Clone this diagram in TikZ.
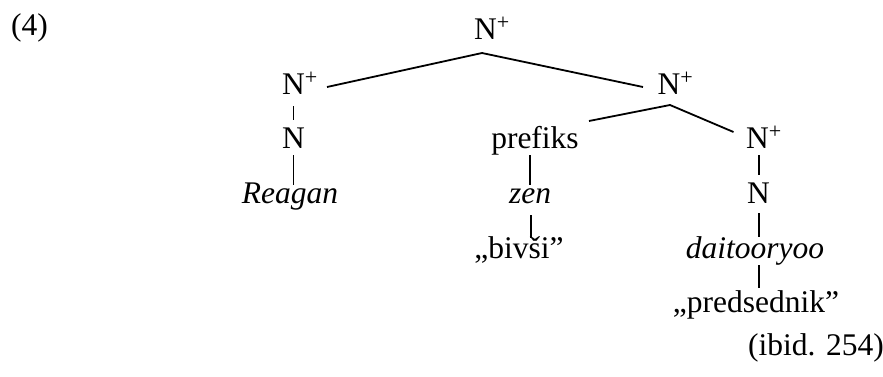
\documentclass[tikz,border=0pt]{standalone}
\usepackage{fontspec}
\setmainfont{Liberation Serif}
\usetikzlibrary{calc}
\begin{document}
\begin{tikzpicture}[x=1pt,y=1pt,
  lbl/.style={inner sep=0pt,anchor=base,font=\fontsize{31.5}{38}\selectfont},
  edge/.style={line width=1.8pt}]
\useasboundingbox (0,0) rectangle (883,-376);
\node[lbl,anchor=base west] (ex) at (11,-35) {(4)};
\node[lbl] (top) at (485.5,-39) {N\rlap{\textsuperscript{+}}};
\node[lbl] (lnp) at (293.5,-94) {N\rlap{\textsuperscript{+}}};
\node[lbl] (ln) at (293.5,-148) {N};
\node[lbl] (reagan) at (290,-203) {\itshape Reagan};
\node[lbl] (rnp) at (669,-94) {N\rlap{\textsuperscript{+}}};
\node[lbl] (pref) at (535,-148) {prefiks};
\node[lbl] (zen) at (530,-203) {\itshape zen};
\node[lbl] (bivsi) at (519,-258) {„bivši”};
\node[lbl] (lnp2) at (757.5,-148) {N\rlap{\textsuperscript{+}}};
\node[lbl] (ln2) at (758.5,-203) {N};
\node[lbl] (dai) at (755,-258) {\itshape daitooryoo};
\node[lbl] (pred) at (756,-312) {„predsednik”};
\node[lbl,anchor=base east] (ibid) at (884,-355) {(ibid. 254)};
% top branches
\draw[edge] ([shift={(33.5,7)}]lnp.base) -- ([shift={(-3.5,-14)}]top.base) -- ([shift={(-26,7)}]rnp.base);
% left column
\draw[edge] ([yshift=-12]lnp.base) -- ([yshift=28]ln.base);
\draw[edge] ([yshift=-7]ln.base) -- ([shift={(3.5,18)}]reagan.base);
% middle branches
\draw[edge] ([shift={(54,27)}]pref.base) -- ([shift={(1,-11)}]rnp.base) -- ([shift={(-24,16)}]lnp2.base);
% prefiks column
\draw[edge] ([shift={(-5,-7)}]pref.base) -- ([shift={(0,18)}]zen.base);
\draw[edge] ([shift={(1,-12)}]zen.base) -- ([shift={(12,20)}]bivsi.base);
% right column
\draw[edge] ([shift={(1.5,-7)}]lnp2.base) -- ([shift={(0.5,28)}]ln2.base);
\draw[edge] ([shift={(0.5,-10)}]ln2.base) -- ([shift={(4,21)}]dai.base);
\draw[edge] ([shift={(4,-7)}]dai.base) -- ([shift={(3,24)}]pred.base);
\end{tikzpicture}
\end{document}
